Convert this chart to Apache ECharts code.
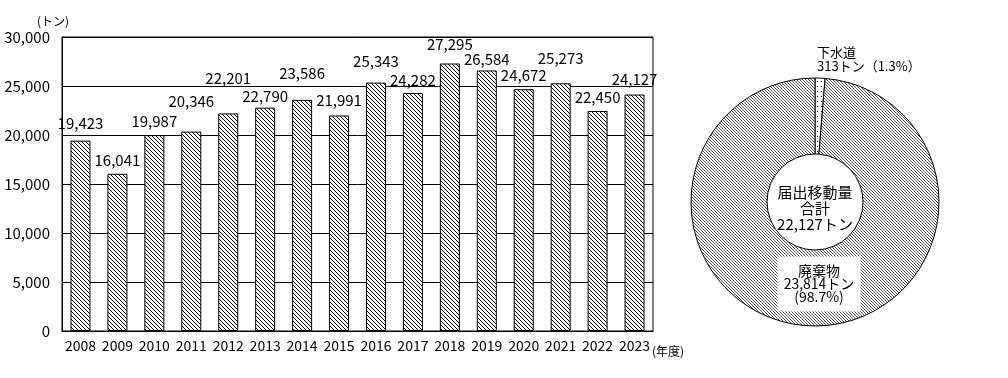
<!DOCTYPE html>
<html><head><meta charset="utf-8">
<script src="https://cdn.jsdelivr.net/npm/echarts@6/dist/echarts.min.js"></script>
<style>html,body{margin:0;padding:0;background:#fff}#c{width:1008px;height:378px}</style>
</head><body><div id="c"></div>
<script>
const years = ['2008','2009','2010','2011','2012','2013','2014','2015','2016','2017','2018','2019','2020','2021','2022','2023'];
const amounts = [19423,16041,19987,20346,22201,22790,23586,21991,25343,24282,27295,26584,24672,25273,22450,24127];
const yTicks = [0,5000,10000,15000,20000,25000,30000];
const yUnit = '(トン)';
const xUnit = '(年度)';
const pieNames = ['下水道','廃棄物'];
const pieValues = [313,23814];
const piePercents = ['1.3%','98.7%'];
const centerLines = ['届出移動量','合計','22,127トン'];

const FONT = '"Noto Sans CJK JP", "Noto Sans", sans-serif';
function fmt(v){return String(v).replace(/\B(?=(\d{3})+(?!\d))/g, ',');}
function hatch(s, col){
  const c=document.createElement('canvas'); c.width=c.height=s;
  const g=c.getContext('2d'); g.fillStyle='#fff'; g.fillRect(0,0,s,s);
  g.fillStyle=col; for(let i=0;i<s;i++) g.fillRect(i,i,1,1);
  return c;
}
function dots(){
  const c=document.createElement('canvas'); c.width=4; c.height=5;
  const g=c.getContext('2d'); g.fillStyle='#fff'; g.fillRect(0,0,4,5);
  g.fillStyle='#000'; g.fillRect(1,1,1,1);
  return c;
}
const barPat = {image: hatch(4,'#000'), repeat:'repeat'};
const piePat = {image: hatch(3,'#555'), repeat:'repeat'};
const dotPat = {image: dots(), repeat:'repeat'};
// label gap above each bar (staggered like the original)
const labelGap = [10,6,6,23,28,4,19,8,14,5,12,4,6,18,6,8];

const chart = echarts.init(document.getElementById('c'));
chart.setOption({
  animation:false,
  backgroundColor:'#fff',
  textStyle:{fontFamily:FONT},
  grid:{left:62, right:355, top:37, bottom:47, show:true, borderColor:'#000', borderWidth:1},
  xAxis:{type:'category', data:years,
    axisLine:{lineStyle:{color:'#000', width:1}},
    axisTick:{inside:true, length:4, lineStyle:{color:'#000'}},
    axisLabel:{color:'#000', fontSize:14, fontFamily:FONT, margin:8, interval:0}
  },
  yAxis:{type:'value', min:yTicks[0], max:yTicks[yTicks.length-1], interval:5000,
    axisLine:{show:true, lineStyle:{color:'#000'}},
    axisTick:{show:false},
    splitLine:{lineStyle:{color:'#000', width:1}},
    axisLabel:{color:'#000', fontSize:15, fontFamily:FONT, margin:12, formatter:v=>fmt(v)}
  },
  graphic:[
    {type:'text', left:37, top:15, style:{text:yUnit, fontSize:12, fontFamily:FONT, fill:'#000'}},
    {type:'text', left:652, top:345, style:{text:xUnit, fontSize:12, fontFamily:FONT, fill:'#000'}},
    {type:'text', x:815, y:208, style:{text:centerLines.join('\n'), fontSize:15, lineHeight:16, fontFamily:FONT, fill:'#000', align:'center', verticalAlign:'middle'}}
  ],
  series:[
    {type:'bar', data:amounts.map((v,i)=>({value:v, label:{distance:labelGap[i]}})), barWidth:20,
      itemStyle:{color:barPat, borderColor:'#000', borderWidth:1},
      label:{show:true, position:'top', color:'#000', fontSize:15, fontFamily:FONT, formatter:p=>fmt(p.value)}
    },
    {type:'pie', center:[815,202], radius:[48,124], startAngle:90, clockwise:true,
      avoidLabelOverlap:false,
      itemStyle:{borderColor:'#000', borderWidth:1},
      labelLine:{show:false},
      data:[
        {name:pieNames[0], value:pieValues[0], itemStyle:{color:dotPat},
          label:{show:true, position:'outside', align:'left', color:'#000', fontSize:13, lineHeight:14, fontFamily:FONT,
            formatter:()=>pieNames[0]+'\n'+fmt(pieValues[0])+'トン（'+piePercents[0]+'）'}},
        {name:pieNames[1], value:pieValues[1], itemStyle:{color:piePat},
          label:{show:true, position:'inside', color:'#000', fontSize:14, lineHeight:13, fontFamily:FONT,
            backgroundColor:'#fff', padding:[8,6,8,6], width:71, overflow:'none', align:'center',
            formatter:()=>pieNames[1]+'\n'+fmt(pieValues[1])+'トン\n('+piePercents[1]+')'}}
      ],
      labelLayout:function(p){
        if(p.dataIndex===0) return {x:817, y:59, align:'left', verticalAlign:'middle'};
        return {x:819, y:284, align:'center', verticalAlign:'middle'};
      }
    }
  ]
});
</script></body></html>
